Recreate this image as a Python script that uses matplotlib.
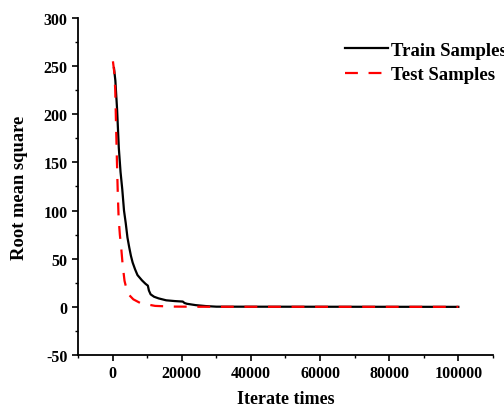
"""RMS convergence of train / test samples."""

import matplotlib
matplotlib.use("Agg")
import matplotlib.pyplot as plt
from matplotlib.ticker import MultipleLocator

# ── Data ───────────────────────────────────────────────────────────────
train_x = [400, 800, 1300, 1800, 2300, 2800, 3300, 3800, 4300, 4800, 5300,
           5800, 6500, 7200, 8500, 9500, 10200, 10500, 11000, 12000, 13300,
           15500, 18000, 20300, 20800, 21500, 24000, 27000, 30000, 100000]
train_y = [248, 235, 205, 165, 140, 122, 100, 87, 72, 62, 53,
           46, 39, 33, 27.5, 24, 22, 17, 13, 10.5, 8.8,
           6.8, 6, 5.5, 4, 3.2, 1.8, 0.8, 0.2, 0]

test_x = [100, 500, 770, 960, 1250, 1500, 1750, 2100, 2500, 2900, 3450,
          4000, 4600, 6000, 8000, 9900, 12300, 17000, 25000, 100000]
test_y = [255, 243, 225, 195, 152, 118, 92, 75, 61, 44, 27,
          19, 13, 7.8, 4, 2.6, 1, 0.3, 0.1, 0]

x_ticks = [0, 20000, 40000, 60000, 80000, 100000]
y_ticks = [-50, 0, 50, 100, 150, 200, 250, 300]

plt.rcParams.update({
    "font.family": ["Liberation Serif", "DejaVu Serif"],
    "font.weight": "bold",
    "axes.linewidth": 1.3,
    "axes.unicode_minus": False,
})

fig = plt.figure(figsize=(5.04, 4.10), dpi=100)
ax = fig.add_axes([0.1548, 0.1317, 0.978 - 0.1548, 0.9537 - 0.1317])

ax.plot(train_x, train_y, color="black", lw=1.6, label="Train Samples")
ax.plot(test_x, test_y, color="#ff0000", lw=1.6, dashes=(5.8, 4.8),
        label="Test Samples")

ax.set_xlim(-10000, 110000)
ax.set_ylim(-50, 300)
ax.set_xticks(x_ticks)
ax.set_yticks(y_ticks)
ax.xaxis.set_minor_locator(MultipleLocator(10000))
ax.yaxis.set_minor_locator(MultipleLocator(25))

ax.spines["top"].set_visible(False)
ax.spines["right"].set_visible(False)
ax.tick_params(which="major", direction="out", length=4, width=1.2,
               labelsize=11.5)
ax.tick_params(which="minor", direction="out", length=2.5, width=1.0)

ax.set_xlabel("Iterate times", fontsize=13, fontweight="bold", labelpad=6)
ax.set_ylabel("Root mean square", fontsize=13.3, fontweight="bold", labelpad=11)

ax.legend(loc="upper left", bbox_to_anchor=(337 / 504, 1 - 35 / 410),
          bbox_transform=fig.transFigure, frameon=False, fontsize=13.5,
          handlelength=2.3, handletextpad=0.2, labelspacing=0.4,
          borderaxespad=0)

fig.savefig("out.png", dpi=100)
